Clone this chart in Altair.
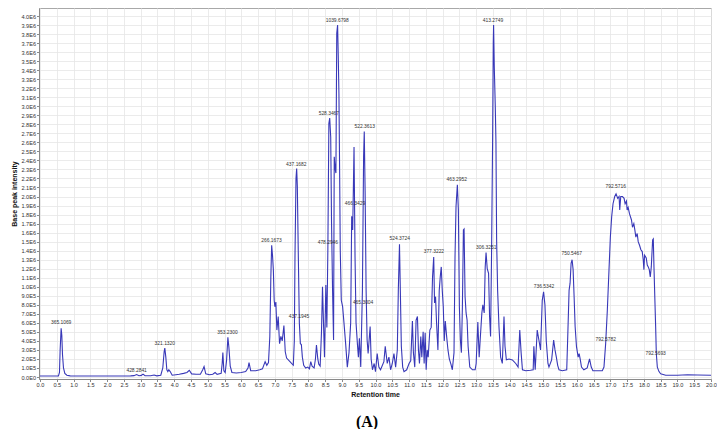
import altair as alt
import pandas as pd

# Retention time (min) and base peak intensity (x 1E6)
times = [0.00, 0.20, 0.40, 0.55, 0.58, 0.60, 0.63, 0.65, 0.67, 0.70, 0.74, 0.80, 0.90, 1.20, 1.60, 2.00, 2.40, 2.70,
         2.80, 2.88, 2.95, 3.02, 3.07, 3.13, 3.30, 3.40, 3.48, 3.60, 3.66, 3.70, 3.72, 3.75, 3.78, 3.81, 3.84, 3.88,
         3.94, 4.05, 4.15, 4.28, 4.38, 4.45, 4.52, 4.65, 4.78, 4.85, 4.89, 4.94, 5.05, 5.15, 5.22, 5.28, 5.40, 5.43,
         5.45, 5.48, 5.52, 5.56, 5.60, 5.63, 5.67, 5.72, 5.85, 6.00, 6.13, 6.20, 6.23, 6.28, 6.43, 6.55, 6.63, 6.71,
         6.76, 6.81, 6.85, 6.88, 6.905, 6.93, 6.955, 6.98, 7.00, 7.03, 7.06, 7.10, 7.14, 7.18, 7.22, 7.27, 7.31,
         7.35, 7.45, 7.55, 7.58, 7.60, 7.63, 7.65, 7.67, 7.70, 7.73, 7.76, 7.79, 7.82, 7.86, 7.92, 7.98, 8.03, 8.07,
         8.11, 8.17, 8.21, 8.24, 8.28, 8.31, 8.35, 8.39, 8.42, 8.45, 8.48, 8.52, 8.55, 8.58, 8.61, 8.635, 8.665,
         8.69, 8.72, 8.75, 8.77, 8.80, 8.82, 8.845, 8.87, 8.89, 8.91, 8.93, 8.95, 8.98, 9.02, 9.06, 9.11, 9.16,
         9.21, 9.26, 9.29, 9.32, 9.36, 9.39, 9.42, 9.46, 9.49, 9.52, 9.56, 9.61, 9.645, 9.665, 9.69, 9.72, 9.75,
         9.78, 9.84, 9.87, 9.91, 9.96, 10.00, 10.05, 10.10, 10.15, 10.25, 10.29, 10.35, 10.40, 10.45, 10.50, 10.55,
         10.60, 10.65, 10.68, 10.715, 10.74, 10.77, 10.81, 10.85, 10.93, 11.00, 11.05, 11.10, 11.13, 11.17, 11.21,
         11.25, 11.28, 11.31, 11.35, 11.38, 11.42, 11.45, 11.48, 11.51, 11.54, 11.57, 11.62, 11.66, 11.70, 11.735,
         11.76, 11.79, 11.82, 11.86, 11.90, 11.93, 11.96, 11.99, 12.02, 12.05, 12.08, 12.12, 12.16, 12.20, 12.25,
         12.29, 12.34, 12.37, 12.40, 12.44, 12.47, 12.50, 12.53, 12.56, 12.59, 12.62, 12.64, 12.67, 12.70, 12.73,
         12.76, 12.81, 12.89, 12.97, 13.00, 13.05, 13.09, 13.12, 13.17, 13.20, 13.24, 13.27, 13.295, 13.33, 13.37,
         13.40, 13.43, 13.46, 13.49, 13.51, 13.52, 13.54, 13.57, 13.59, 13.61, 13.64, 13.68, 13.73, 13.78, 13.83,
         13.86, 13.90, 13.98, 14.08, 14.18, 14.25, 14.30, 14.34, 14.38, 14.48, 14.62, 14.70, 14.72, 14.76, 14.82,
         14.87, 14.92, 14.97, 15.01, 15.05, 15.09, 15.14, 15.17, 15.25, 15.31, 15.35, 15.39, 15.43, 15.47, 15.57,
         15.70, 15.73, 15.77, 15.80, 15.83, 15.86, 15.89, 15.92, 15.95, 15.99, 16.04, 16.07, 16.10, 16.14, 16.21,
         16.31, 16.38, 16.43, 16.48, 16.66, 16.76, 16.81, 16.86, 16.91, 16.96, 17.00, 17.04, 17.08, 17.13, 17.17,
         17.22, 17.26, 17.28, 17.31, 17.36, 17.41, 17.44, 17.48, 17.50, 17.53, 17.57, 17.63, 17.66, 17.70, 17.73,
         17.76, 17.80, 17.83, 17.87, 17.91, 17.95, 17.98, 18.00, 18.02, 18.07, 18.10, 18.13, 18.16, 18.19, 18.22,
         18.26, 18.28, 18.30, 18.33, 18.35, 18.37, 18.40, 18.45, 18.50, 18.65, 19.00, 19.30, 19.60, 20.00]

intensity = [0.012, 0.011, 0.012, 0.013, 0.05, 0.30, 0.54, 0.46, 0.25, 0.10, 0.04, 0.02, 0.013, 0.012, 0.011, 0.012, 0.011, 0.013,
             0.015, 0.028, 0.014, 0.018, 0.032, 0.014, 0.014, 0.022, 0.013, 0.02, 0.10, 0.28, 0.32, 0.22, 0.08, 0.06, 0.08, 0.06,
             0.02, 0.025, 0.03, 0.04, 0.05, 0.075, 0.035, 0.03, 0.03, 0.08, 0.115, 0.035, 0.025, 0.03, 0.05, 0.03, 0.04, 0.15,
             0.27, 0.07, 0.05, 0.18, 0.44, 0.33, 0.12, 0.05, 0.045, 0.05, 0.06, 0.10, 0.16, 0.07, 0.07, 0.08, 0.09, 0.17,
             0.13, 0.16, 0.45, 1.10, 1.46, 1.35, 1.19, 0.85, 0.78, 0.83, 0.52, 0.67, 0.37, 0.45, 0.40, 0.57, 0.28,
             0.21, 0.17, 0.13, 0.40, 1.33, 2.20, 2.31, 2.11, 1.33, 0.60, 0.37, 0.36, 0.22, 0.13, 0.10, 0.11, 0.09, 0.17,
             0.12, 0.10, 0.20, 0.355, 0.20, 0.14, 0.12, 0.50, 1.00, 0.60, 0.22, 1.02, 0.55, 1.41, 2.81, 2.87, 2.66,
             1.70, 0.96, 0.41, 2.44, 2.30, 2.26, 3.81, 3.90, 3.55, 3.14, 2.30, 1.40, 0.85, 0.78, 0.60, 0.37, 0.11,
             0.27, 0.60, 1.78, 1.63, 2.55, 1.33, 0.60, 0.37, 0.22, 0.43, 0.11, 0.96, 2.44, 2.72, 2.07, 0.96, 0.41,
             0.26, 0.56, 0.20, 0.08, 0.15, 0.06, 0.26, 0.11, 0.08, 0.17, 0.34, 0.15, 0.22, 0.08, 0.15, 0.26,
             0.11, 0.30, 0.96, 1.47, 0.96, 0.34, 0.11, 0.06, 0.08, 0.15, 0.18, 0.62, 0.27, 0.11, 0.63,
             0.67, 0.30, 0.15, 0.45, 0.22, 0.50, 0.15, 0.49, 0.08, 0.30, 0.22, 0.52, 0.55, 1.11, 1.33,
             0.82, 0.89, 0.60, 0.30, 0.96, 1.11, 1.22, 0.96, 0.78, 0.40, 0.62, 0.45, 0.30, 0.20, 0.14,
             0.08, 0.27, 1.33, 1.89, 2.13, 1.85, 0.78, 0.41, 0.27, 0.78, 1.63, 1.64, 0.89, 0.71, 0.63,
             0.34, 0.11, 0.08, 0.08, 0.15, 0.61, 0.22, 0.41, 0.71, 0.80, 0.71, 1.22, 1.38, 1.20, 1.15,
             0.67, 0.45, 1.40, 2.60, 3.70, 3.90, 3.44, 3.00, 2.60, 1.52, 0.96, 0.56, 0.22, 0.15, 0.67,
             0.34, 0.19, 0.20, 0.19, 0.15, 0.11, 0.52, 0.27, 0.08, 0.07, 0.075, 0.08, 0.34, 0.08, 0.52,
             0.41, 0.30, 0.85, 0.945, 0.80, 0.40, 0.15, 0.11, 0.19, 0.41, 0.30, 0.22, 0.13, 0.08, 0.07,
             0.08, 0.45, 0.96, 1.04, 1.26, 1.30, 1.19, 0.89, 0.56, 0.34, 0.22, 0.26, 0.20, 0.11, 0.08,
             0.10, 0.20, 0.11, 0.07, 0.07, 0.07, 0.11, 0.37, 0.74, 1.19, 1.55, 1.78, 1.92, 2.00, 2.03,
             1.98, 2.00, 1.85, 2.00, 2.00, 1.98, 1.92, 1.95, 1.85, 1.88, 1.81, 1.74, 1.66, 1.70, 1.63,
             1.55, 1.59, 1.50, 1.46, 1.41, 1.39, 1.30, 1.19, 1.35, 1.32, 1.24, 1.22, 1.19, 1.11, 1.22,
             1.52, 1.53, 1.22, 0.82, 0.56, 0.26, 0.11, 0.06, 0.035, 0.02, 0.02, 0.025, 0.022, 0.02]

# Peak annotations (m/z labels)
peak_labels = ["365.1069", "428.2841", "321.1320", "353.2300", "266.1673", "437.1945", "437.1682",
               "528.3467", "1039.6798", "522.3613", "466.3429", "478.2946", "465.3004", "524.3724",
               "377.3222", "463.2952", "413.2749", "306.3251", "736.5342", "750.5467", "792.5782",
               "792.5716", "792.5693"]
label_times = [0.63, 2.88, 3.72, 5.59, 6.90, 7.72, 7.64, 8.61, 8.86, 9.68, 9.39, 8.58, 9.63, 10.72,
               11.74, 12.42, 13.50, 13.30, 15.02, 15.85, 16.86, 17.16, 18.35]
label_heights = [0.593, 0.07, 0.37, 0.49, 1.51, 0.66, 2.35, 2.91, 3.95, 2.77, 1.92, 1.48, 0.82, 1.53,
                 1.39, 2.18, 3.95, 1.43, 1.00, 1.36, 0.41, 2.10, 0.26]

y_ticks = [round(i * 0.1, 1) for i in range(41)]
x_ticks = [round(i * 0.5, 1) for i in range(41)]

trace = pd.DataFrame({"t": times, "I": intensity})
labels = pd.DataFrame({"t": label_times, "I": label_heights, "label": peak_labels})

x_scale = alt.Scale(domain=[-0.03, 20.0], nice=False, zero=False)
y_scale = alt.Scale(domain=[-0.022, 4.089], nice=False, zero=False)

y_label_expr = ("datum.value == 0 ? '0.0E0' : (datum.value < 0.95 ? "
                "format(datum.value * 10, '.1f') + 'E5' : format(datum.value, '.1f') + 'E6')")

x_enc = alt.X("t:Q", scale=x_scale,
              axis=alt.Axis(values=x_ticks, format=".1f", title="Retention time",
                            labelOverlap=False, labelFlush=False, tickCount=41))
y_enc = alt.Y("I:Q", scale=y_scale,
              axis=alt.Axis(values=y_ticks, labelExpr=y_label_expr, title="Base peak intensity",
                            labelOverlap=False, labelFlush=False, tickCount=41))

line = alt.Chart(trace).mark_line(color="#3838b8", strokeWidth=1.1, clip=True).encode(
    x=x_enc, y=y_enc,
)

text = alt.Chart(labels).mark_text(
    fontSize=4.9, font="Liberation Sans", color="#333333", align="center", baseline="middle"
).encode(
    x=x_enc, y=y_enc,
    text="label:N",
)

chart = alt.layer(line, text).properties(
    width=672,
    height=371,
    autosize=alt.AutoSizeParams(type="none"),
    padding={"left": 31, "top": 0, "right": 6, "bottom": 50},
    title=alt.TitleParams(
        text="(A)", orient="bottom", anchor="middle", font="Liberation Serif",
        fontSize=16, fontWeight="bold", color="black", dx=-8, offset=17,
    ),
).configure_view(
    stroke="#a8a8a8", strokeWidth=1
).configure_axis(
    labelFont="Liberation Sans", labelFontSize=5.6, labelColor="#333333",
    titleFont="Liberation Sans", titleFontSize=7, titleFontWeight="bold", titleColor="#111111",
    gridColor="#e6e6e6", gridWidth=0.8, domainColor="#8a8a8a", tickColor="#8a8a8a",
    tickSize=2.5, labelPadding=1, labelOverlap=False, labelFlush=False,
).configure_axisX(
    titlePadding=2,
).configure_axisY(
    titlePadding=3,
)

chart.save("out.html", embed_options={"renderer": "svg", "actions": False})
